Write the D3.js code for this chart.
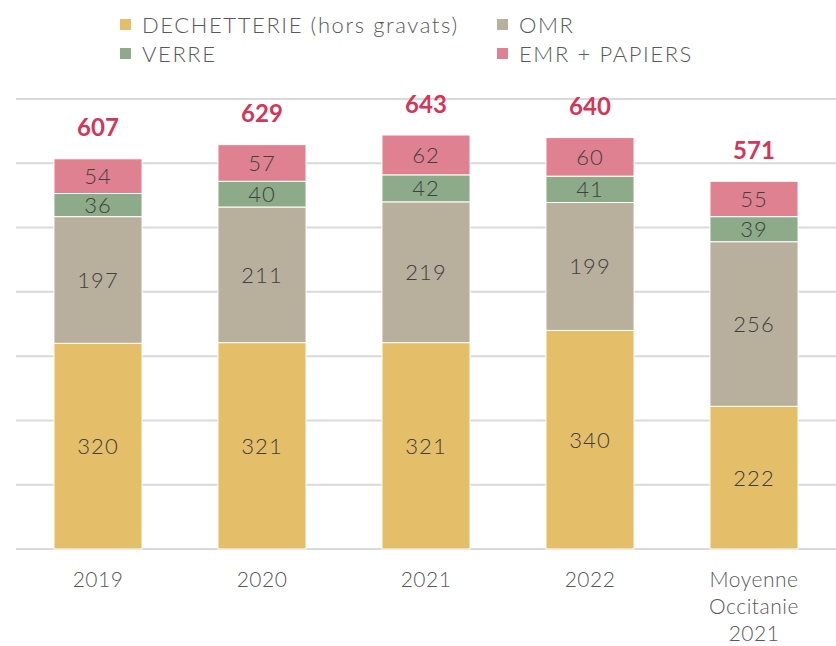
<!DOCTYPE html>
<html>
<head>
<meta charset="utf-8">
<script src="https://cdn.jsdelivr.net/npm/d3@7"></script>
<style>
  body { margin: 0; background: #fff; }
  svg { display: block; font-family: Lato, "Open Sans", sans-serif; }
</style>
</head>
<body>
<svg id="chart" width="836" height="646"></svg>
<script>
// --- data ---
const categories = ["2019", "2020", "2021", "2022", "Moyenne Occitanie 2021"];
const categoryLines = [["2019"], ["2020"], ["2021"], ["2022"], ["Moyenne", "Occitanie", "2021"]];
const seriesNames = ["DECHETTERIE (hors gravats)", "OMR", "VERRE", "EMR + PAPIERS"];
const dechetterie = [320, 321, 321, 340, 222];
const omr = [197, 211, 219, 199, 256];
const verre = [36, 40, 42, 41, 39];
const emr = [54, 57, 62, 60, 55];
const totals = [607, 629, 643, 640, 571];
const gridTicks = [0, 100, 200, 300, 400, 500, 600, 700];

const colors = ["#e4be68", "#b8af9d", "#8daa89", "#e08191"];

const svg = d3.select("#chart");

const x = d3.scaleBand()
  .domain(categories)
  .range([16, 836])
  .paddingInner(0.463)
  .paddingOuter(0.2315);

const y = d3.scaleLinear().domain([0, 700]).range([549, 99]);

// gridlines
svg.append("g")
  .selectAll("line")
  .data(gridTicks)
  .join("line")
  .attr("x1", 16)
  .attr("x2", 836)
  .attr("y1", d => y(d))
  .attr("y2", d => y(d))
  .attr("stroke", "#d9d9d9")
  .attr("stroke-width", 2);

// stack the series
const rows = categories.map((c, i) => ({
  cat: c,
  s0: dechetterie[i], s1: omr[i], s2: verre[i], s3: emr[i]
}));
const stack = d3.stack().keys(["s0", "s1", "s2", "s3"]);
const layers = stack(rows);

const layerG = svg.append("g")
  .selectAll("g")
  .data(layers)
  .join("g")
  .attr("fill", (d, i) => colors[i]);

layerG.selectAll("rect")
  .data(d => d)
  .join("rect")
  .attr("x", d => x(d.data.cat))
  .attr("width", x.bandwidth())
  .attr("y", d => y(d[1]))
  .attr("height", d => y(d[0]) - y(d[1]))
  .attr("stroke", "#fff")
  .attr("stroke-width", 1);

// segment value labels
layerG.selectAll("text")
  .data(d => d.map(v => ({ v, key: d.key })))
  .join("text")
  .attr("x", d => x(d.v.data.cat) + x.bandwidth() / 2)
  .attr("y", d => (y(d.v[0]) + y(d.v[1])) / 2)
  .attr("dy", "0.36em")
  .attr("text-anchor", "middle")
  .attr("font-size", 22)
  .attr("font-weight", 300)
  .attr("letter-spacing", 1)
  .attr("fill", "#404040")
  .text(d => d.v[1] - d.v[0]);

// totals
svg.append("g")
  .selectAll("text")
  .data(categories)
  .join("text")
  .attr("x", d => x(d) + x.bandwidth() / 2)
  .attr("y", (d, i) => y(totals[i]) - 23)
  .attr("text-anchor", "middle")
  .attr("font-size", 24)
  .attr("font-weight", "bold")
  .attr("fill", "#d4365a")
  .text((d, i) => totals[i]);

// x axis labels
const tickG = svg.append("g")
  .selectAll("text")
  .data(categories)
  .join("text")
  .attr("x", d => x(d) + x.bandwidth() / 2)
  .attr("y", 587)
  .attr("text-anchor", "middle")
  .attr("font-size", 21)
  .attr("font-weight", 300)
  .attr("letter-spacing", 0.5)
  .attr("fill", "#595959");

tickG.selectAll("tspan")
  .data((d, i) => categoryLines[i])
  .join("tspan")
  .attr("x", function() { return this.parentNode.getAttribute("x"); })
  .attr("dy", (d, i) => i === 0 ? 0 : 27)
  .text(d => d);

// legend
const legendPos = [[120, 25], [497, 25], [120, 54], [497, 54]];
const legend = svg.append("g")
  .selectAll("g")
  .data(seriesNames)
  .join("g")
  .attr("transform", (d, i) => `translate(${legendPos[i][0]},${legendPos[i][1]})`);

legend.append("rect")
  .attr("x", 0)
  .attr("y", -6)
  .attr("width", 11)
  .attr("height", 11)
  .attr("fill", (d, i) => colors[i]);

legend.append("text")
  .attr("x", 22)
  .attr("y", 0)
  .attr("dy", "0.36em")
  .attr("font-size", 22)
  .attr("font-weight", 300)
  .attr("letter-spacing", 1.6)
  .attr("fill", "#595959")
  .text(d => d);
</script>
</body>
</html>
